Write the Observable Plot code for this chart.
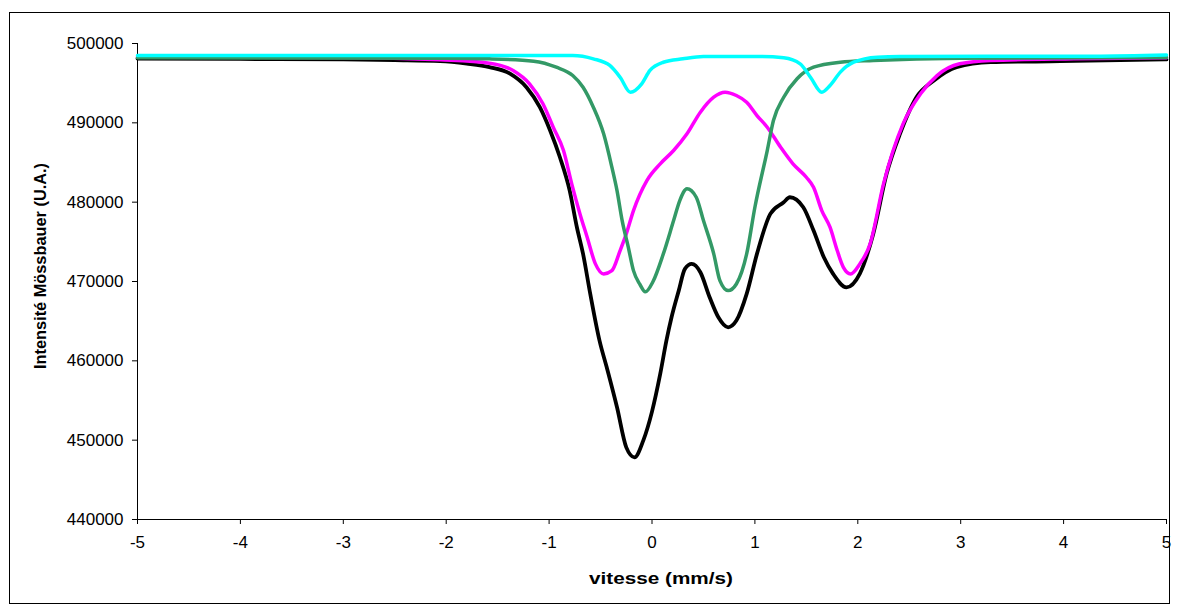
<!DOCTYPE html>
<html>
<head>
<meta charset="utf-8">
<script src="https://cdn.jsdelivr.net/npm/d3@7"></script>
<script src="https://cdn.jsdelivr.net/npm/@observablehq/plot@0.6"></script>
<style>
  html, body { margin: 0; padding: 0; background: #fff; }
  #wrap { position: relative; width: 1177px; height: 608px; overflow: hidden; }
  #frame { position: absolute; left: 9px; top: 12px; width: 1161px; height: 592px; border: 1px solid #000; box-sizing: border-box; pointer-events: none; }
  #chart { position: absolute; left: 0; top: 0; }
</style>
</head>
<body>
<div id="wrap"><div id="frame"></div><div id="chart"></div></div>
<script>
// Velocity ticks and intensity ticks
const xTicks = [-5, -4, -3, -2, -1, 0, 1, 2, 3, 4, 5];
const yTicks = [440000, 450000, 460000, 470000, 480000, 490000, 500000];

// Total spectrum (black)
const totalV = [-5, -4, -3, -2.5, -2.06, -1.8, -1.58, -1.38, -1.22, -1.09, -0.99, -0.895, -0.8, -0.73, -0.67, -0.6, -0.51, -0.44, -0.34, -0.25, -0.17, -0.085, 0.0, 0.08, 0.14, 0.19, 0.26, 0.32, 0.386, 0.47, 0.56, 0.645, 0.74, 0.82, 0.92, 1.02, 1.15, 1.28, 1.34, 1.47, 1.57, 1.67, 1.76, 1.89, 2.02, 2.15, 2.28, 2.41, 2.57, 2.74, 2.96, 3.29, 3.97, 5];
const totalI = [498100, 498050, 498000, 497900, 497770, 497450, 497010, 496200, 494490, 491970, 489030, 485660, 481460, 476840, 473480, 468440, 462550, 459180, 454140, 449090, 447830, 449940, 453600, 458350, 462550, 465490, 468850, 471590, 472220, 471170, 468020, 465490, 464230, 465070, 468440, 473480, 478520, 479990, 480620, 479360, 476420, 473050, 470960, 469270, 471000, 476000, 483570, 488610, 493230, 495330, 497010, 497640, 497770, 498000];

// Doublet 1 (magenta)
const magV = [-5, -3, -2.06, -1.58, -1.35, -1.19, -1.06, -0.96, -0.86, -0.78, -0.7, -0.63, -0.55, -0.47, -0.39, -0.31, -0.25, -0.18, -0.05, 0.08, 0.21, 0.34, 0.47, 0.6, 0.71, 0.82, 0.92, 1.02, 1.12, 1.25, 1.37, 1.5, 1.57, 1.65, 1.73, 1.8, 1.86, 1.93, 2.02, 2.12, 2.25, 2.44, 2.61, 2.77, 2.99, 3.29, 4.1, 5];
const magI = [498300, 498250, 497940, 497520, 496600, 494920, 492400, 489450, 486510, 482310, 478520, 475580, 472220, 470960, 471370, 473900, 476000, 478940, 482720, 484830, 486510, 488610, 491340, 493230, 493860, 493440, 492600, 490920, 489450, 486920, 484830, 483140, 481880, 478940, 476840, 473900, 471790, 470960, 472220, 474740, 482310, 489870, 493660, 495960, 497440, 497860, 498070, 498200];

// Doublet 2 (green)
const greenV = [-5, -2, -1.58, -1.15, -0.93, -0.77, -0.67, -0.57, -0.47, -0.39, -0.34, -0.29, -0.23, -0.18, -0.12, -0.065, 0.01, 0.11, 0.21, 0.27, 0.34, 0.43, 0.5, 0.6, 0.66, 0.74, 0.82, 0.92, 1.0, 1.12, 1.18, 1.28, 1.41, 1.57, 1.83, 2.15, 3, 5];
const greenI = [498200, 498150, 498070, 497770, 497010, 495960, 494490, 491970, 488610, 484410, 481460, 477680, 474310, 471370, 469690, 468700, 470000, 473480, 477680, 480200, 481680, 480620, 477680, 473480, 470110, 468850, 469690, 473480, 479360, 486510, 490290, 493230, 495550, 497010, 497640, 497860, 498150, 498250];

// Doublet 3 (cyan)
const cyanV = [-5, -2, -0.77, -0.57, -0.41, -0.31, -0.21, -0.1, -0.02, 0.11, 0.3, 0.5, 1.05, 1.28, 1.44, 1.54, 1.65, 1.73, 1.83, 1.96, 2.19, 2.41, 4.3, 5];
const cyanI = [498500, 498490, 498490, 498070, 497230, 495750, 493860, 494920, 496600, 497640, 498070, 498360, 498360, 498200, 497440, 495750, 493860, 494700, 496390, 497640, 498280, 498360, 498400, 498550];

const seriesColors = ["#000000", "#FF00FF", "#339966", "#00FFFF"];
const seriesWidths = [3.8, 3.5, 3.5, 3.5];

const toRows = (vs, is) => vs.map((v, i) => ({v, I: is[i]}));
const series = [toRows(totalV, totalI), toRows(magV, magI), toRows(greenV, greenI), toRows(cyanV, cyanI)];

const font = "'Liberation Sans', Arial, sans-serif";

const plot = Plot.plot({
  width: 1177,
  height: 608,
  marginLeft: 137,
  marginRight: 11,
  marginTop: 43,
  marginBottom: 89,
  style: {fontFamily: font, fontSize: "17px", color: "#000", background: "transparent", overflow: "visible"},
  x: {domain: [-5, 5]},
  y: {domain: [440000, 500000]},
  marks: [
    Plot.axisX({ticks: xTicks, tickSize: 5, tickPadding: 11, label: null, tickFormat: d => String(d), fontSize: 17, fill: "#000", stroke: "#000"}),
    Plot.axisY({ticks: yTicks, tickSize: 5, tickPadding: 9, label: null, tickFormat: d => String(d), fontSize: 17, fill: "#000", stroke: "#000"}),
    Plot.ruleX([-5], {stroke: "#000", strokeWidth: 1}),
    Plot.ruleY([440000], {stroke: "#000", strokeWidth: 1}),
    ...series.map((rows, k) => Plot.line(rows, {x: "v", y: "I", stroke: seriesColors[k], strokeWidth: seriesWidths[k], curve: "monotone-x", strokeLinejoin: "round"}))
  ]
});

const svg = d3.select(plot);
svg.append("text")
  .attr("x", 661).attr("y", 584)
  .attr("text-anchor", "middle")
  .attr("textLength", 144).attr("lengthAdjust", "spacingAndGlyphs")
  .style("font-family", font).style("font-size", "17px").style("font-weight", "bold")
  .text("vitesse (mm/s)");
svg.append("text")
  .attr("transform", "translate(46,266) rotate(-90)")
  .attr("text-anchor", "middle")
  .attr("textLength", 206).attr("lengthAdjust", "spacingAndGlyphs")
  .style("font-family", font).style("font-size", "16px").style("font-weight", "bold")
  .text("Intensité Mössbauer (U.A.)");

document.getElementById("chart").appendChild(plot);
</script>
</body>
</html>
